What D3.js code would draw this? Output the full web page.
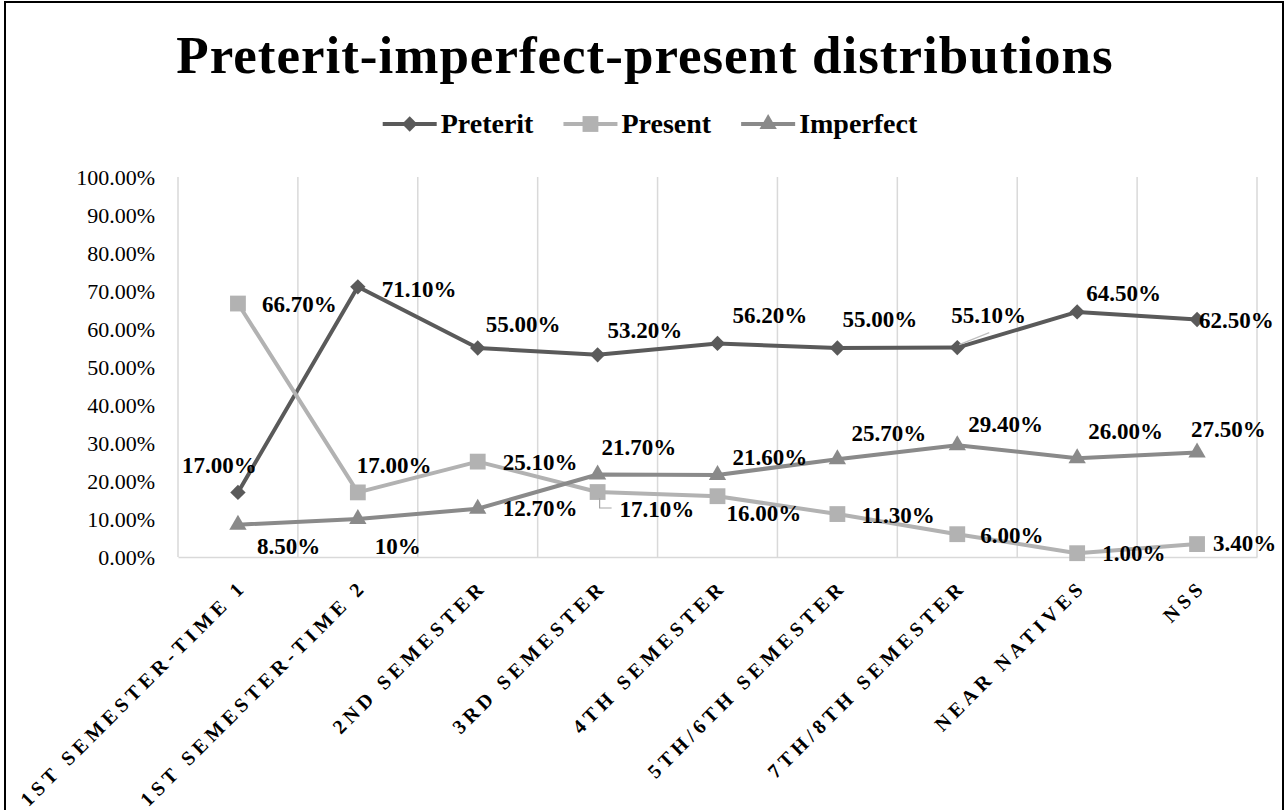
<!DOCTYPE html>
<html>
<head>
<meta charset="utf-8">
<script src="https://cdn.jsdelivr.net/npm/d3@7"></script>
<style>
  body { margin: 0; background: #fff; }
  text { font-family: "Liberation Serif", "Times New Roman", serif; }
</style>
</head>
<body>
<svg id="chart"></svg>
<script>
// values
let categories = ["1ST SEMESTER-TIME 1", "1ST SEMESTER-TIME 2", "2ND SEMESTER", "3RD SEMESTER",
  "4TH SEMESTER", "5TH/6TH SEMESTER", "7TH/8TH SEMESTER", "NEAR NATIVES", "NSS"]
let preterit = [17.0, 71.1, 55.0, 53.2, 56.2, 55.0, 55.1, 64.5, 62.5]
let present = [66.7, 17.0, 25.1, 17.1, 16.0, 11.3, 6.0, 1.0, 3.4]
let imperfect = [8.5, 10, 12.7, 21.7, 21.6, 25.7, 29.4, 26.0, 27.5]
let yTicks = [0, 10, 20, 30, 40, 50, 60, 70, 80, 90, 100]

// the second imperfect label is shown without decimals in the original
let fmt = (v, s, i) => (s == "Imperfect" && i == 1) ? "10%" : v.toFixed(2) + "%"

// label nudges (start x, baseline) relative to each point
let nudges = {
  Preterit: [[-56, -19], [24, 10], [8, -16], [10, -17], [15, -20], [5, -21], [-6, -25], [9, -11], [2, 8]],
  Present: [[24, 8], [-1, -19], [25, 8], [22, 25], [9, 25], [24, 9], [23, 9], [25, 8], [16, 7]],
  Imperfect: [[19, 29], [17, 35], [25, 7], [4, -20], [15, -10], [14, -18], [11, -13], [11, -19], [-6, -16]]
}

let series = [
  { name: "Preterit", values: preterit, color: "#5a5a5a", shape: "diamond" },
  { name: "Present", values: present, color: "#b2b2b2", shape: "square" },
  { name: "Imperfect", values: imperfect, color: "#8a8a8a", shape: "triangle" }
]

let width = 1286
let height = 810
let plotLeft = 178, plotRight = 1257, plotTop = 177, plotBottom = 557

let svg = d3.select("#chart").attr("width", width).attr("height", height)

let xScale = d3.scaleBand().domain(categories).range([plotLeft, plotRight])
let yScale = d3.scaleLinear().domain([0, 100]).range([plotBottom, plotTop])
let cx = c => xScale(c) + xScale.bandwidth() / 2

// outer frame
svg.append("rect")
   .attr("x", 5).attr("y", 2)
   .attr("width", 1278).attr("height", 812)
   .attr("fill", "none").attr("stroke", "#000").attr("stroke-width", 2)

// title
svg.append("text")
   .attr("x", 645).attr("y", 73)
   .attr("text-anchor", "middle")
   .attr("font-size", 53).attr("font-weight", "bold")
   .attr("letter-spacing", 1)
   .text("Preterit-imperfect-present distributions")

let markerPath = (shape) => {
  if (shape == "diamond") return d3.symbol(d3.symbolSquare, 118)()
  if (shape == "square") return d3.symbol(d3.symbolSquare, 250)()
  return d3.symbol(d3.symbolTriangle, 130)()
}

// legend
let legend = svg.append("g")
let lx = 0
series.forEach(s => {
  let g = legend.append("g").attr("transform", "translate(" + lx + ",0)")
  g.append("line").attr("x1", 0).attr("x2", 54).attr("y1", 0).attr("y2", 0)
   .attr("stroke", s.color).attr("stroke-width", 4)
  g.append("path").attr("d", markerPath(s.shape))
   .attr("transform", "translate(27,0)" + (s.shape == "diamond" ? " rotate(45)" : ""))
   .attr("fill", s.color)
  let t = g.append("text").attr("x", 58).attr("y", 9)
   .attr("font-size", 28).attr("font-weight", "bold").text(s.name)
  lx += 58 + t.node().getComputedTextLength() + 30
})
let legendWidth = lx - 30
legend.attr("transform", "translate(" + (650 - legendWidth / 2) + ",124)")

// vertical gridlines at category edges
let edges = categories.map(c => xScale(c)).concat([plotRight])
svg.append("g").selectAll("line")
   .data(edges).enter().append("line")
   .attr("x1", d => d).attr("x2", d => d)
   .attr("y1", plotTop).attr("y2", plotBottom)
   .attr("stroke", "#d9d9d9").attr("stroke-width", 1.5)

// y axis labels (no axis line)
let yAxis = d3.axisLeft(yScale).tickValues(yTicks).tickSize(0).tickPadding(0)
   .tickFormat(d => d.toFixed(2) + "%")
let yg = svg.append("g").attr("transform", "translate(155,0)").call(yAxis)
yg.select(".domain").remove()
yg.selectAll("text").attr("font-size", 22)
  .attr("font-family", "Liberation Serif, serif").attr("fill", "#000")

// x axis baseline and rotated labels
let xAxis = d3.axisBottom(xScale).tickSize(0).tickPadding(0)
let xg = svg.append("g").attr("transform", "translate(0," + plotBottom + ")").call(xAxis)
xg.select(".domain").attr("stroke", "#d9d9d9").attr("stroke-width", 1.5)
xg.selectAll("text")
  .attr("font-size", 20).attr("font-weight", "bold")
  .attr("font-family", "Liberation Serif, serif").attr("fill", "#000")
  .attr("letter-spacing", 4.6)
  .attr("text-anchor", "end")
  .attr("dy", 0).attr("y", 0)
  .attr("transform", "translate(10,31) rotate(-45)")

// lines, markers
let line = d3.line().x((d, i) => cx(categories[i])).y(d => yScale(d))
series.forEach(s => {
  svg.append("path").datum(s.values)
     .attr("d", line).attr("fill", "none")
     .attr("stroke", s.color).attr("stroke-width", 4).attr("stroke-linejoin", "round")
  svg.append("g").selectAll("path")
     .data(s.values).enter().append("path")
     .attr("d", markerPath(s.shape))
     .attr("transform", (d, i) => "translate(" + cx(categories[i]) + "," + yScale(d) + ")" +
        (s.shape == "diamond" ? " rotate(45)" : ""))
     .attr("fill", s.color)
})

// leader lines for two moved labels
let lp = [cx(categories[3]), yScale(present[3])]
svg.append("path")
   .attr("d", "M" + (lp[0] + 2) + "," + (lp[1] + 6) + "V" + (lp[1] + 16) + "H" + (lp[0] + 14))
   .attr("fill", "none").attr("stroke", "#a6a6a6").attr("stroke-width", 1.2)
let lq = [cx(categories[6]), yScale(preterit[6])]
svg.append("line")
   .attr("x1", lq[0] + 2).attr("y1", lq[1] - 3)
   .attr("x2", lq[0] + 32).attr("y2", lq[1] - 15)
   .attr("stroke", "#bfbfbf").attr("stroke-width", 1.2)

// data labels
series.forEach(s => {
  svg.append("g").selectAll("text")
     .data(s.values).enter().append("text")
     .attr("x", (d, i) => cx(categories[i]) + nudges[s.name][i][0])
     .attr("y", (d, i) => yScale(d) + nudges[s.name][i][1])
     .attr("font-size", 23).attr("font-weight", "bold")
     .text((d, i) => fmt(d, s.name, i))
})
</script>
</body>
</html>
